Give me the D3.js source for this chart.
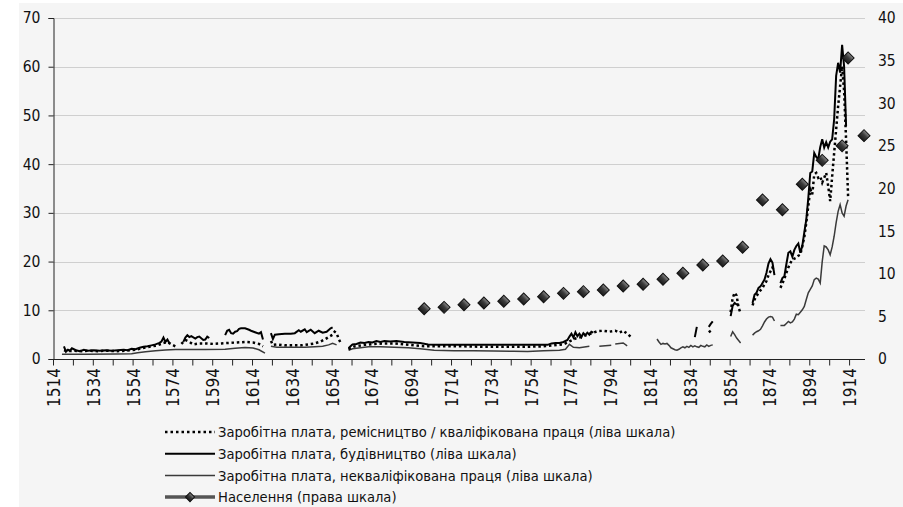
<!DOCTYPE html>
<html>
<head>
<meta charset="utf-8">
<script src="https://cdn.jsdelivr.net/npm/d3@7"></script>
<style>
  body { margin: 0; background: #fff; }
  text { font-family: "Liberation Sans Narrow", "DejaVu Sans Condensed", sans-serif; fill: #111; }
</style>
</head>
<body>
<svg id="chart" width="903" height="507"></svg>
<script>
// wages (left scale), population (right scale); null breaks a line
var skilled = [
  [1519,1.8],[1521,1.6],[1524,1.7],[1528,1.6],[1532,1.7],[1536,1.6],[1540,1.7],[1545,1.6],[1550,1.7],[1555,1.9],
  [1558,2.2],[1562,2.5],[1566,2.8],[1569,3.3],[1571,3.5],[1573,3.0],[1575,2.6], null,
  [1578,3.1],[1580,3.9],[1582,3.5],[1584,3.0],[1587,3.2],[1590,3.2],[1594,3.1],[1598,3.2],[1602,3.3],[1606,3.4],
  [1610,3.5],[1614,3.4],[1617,3.1],[1619,2.6], null,
  [1623,3.7],[1624,2.9],[1626,3.0],[1630,2.8],[1634,2.8],[1638,2.8],[1642,3.0],[1645,3.2],[1648,3.6],[1650,4.0],
  [1652,4.5],[1654,5.0],[1655,5.6],[1656,5.3],[1657,4.2],[1658,3.3], null,
  [1662,2.0],[1665,2.6],[1670,2.9],[1675,3.1],[1680,3.2],[1685,3.2],[1690,3.0],[1695,2.8],[1700,2.6],[1710,2.6],
  [1720,2.6],[1730,2.5],[1740,2.5],[1750,2.5],[1760,2.6],[1765,2.8],[1770,3.0],[1773,3.6],[1776,4.2],[1779,4.5],
  [1782,5.0],[1785,5.4],[1787,5.7],[1790,5.8],[1793,5.6],[1796,5.8],[1798,5.4],[1800,5.8],[1802,5.2],[1804,4.5], null,
  [1843,5.5],[1844,5.8], null,
  [1854,9.6],[1855,12.5],[1856,13.6],[1857,13.0],[1858,10.5],[1859,9.4], null,
  [1865,11.0],[1866,12.2],[1868,13.6],[1870,14.6],[1872,16.0],[1873,17.2],[1874,18.0],[1875,18.8],[1876,18.0], null,
  [1879,14.6],[1880,15.5],[1881,16.5],[1882,17.7],[1883,18.8],[1884,19.7],[1885,20.4],[1886,20.6],[1887,20.8],
  [1888,21.2],[1889,21.4],[1890,23.2],[1891,25.0],[1892,28.0],[1893,31.4],[1894,34.8],[1895,33.8],[1896,37.9],
  [1897,38.2],[1898,37.2],[1899,37.5],[1900,36.2],[1901,37.2],[1902,38.2],[1903,35.5],[1904,32.4],[1905,37.5],
  [1906,42.3],[1907,47.1],[1908,51.9],[1909,56.0],[1910,60.1],[1911,55.0],[1912,45.0],[1913,33.4]
];

var construction = [
  [1519,2.6],[1520,1.5],[1521,1.9],[1522,1.7],[1523,2.2],[1525,1.8],[1527,1.6],[1529,1.9],[1531,1.7],[1534,1.8],
  [1537,1.7],[1540,1.8],[1543,1.7],[1546,1.8],[1549,1.9],[1551,1.8],[1553,2.1],[1555,2.0],[1557,2.3],[1559,2.5],
  [1561,2.6],[1563,2.8],[1565,3.0],[1567,3.3],[1568,3.6],[1569,4.4],[1570,3.5],[1571,4.0],[1572,3.2], null,
  [1579,3.5],[1580,4.4],[1581,4.9],[1582,4.5],[1583,4.7],[1585,4.2],[1586,4.5],[1587,4.6],[1589,3.9],[1590,4.0],
  [1591,4.6],[1592,4.3], null,
  [1600,4.9],[1601,5.8],[1602,6.0],[1603,5.3],[1604,5.2],[1605,5.6],[1606,5.7],[1607,6.2],[1608,6.3],[1610,6.3],
  [1612,6.0],[1613,5.8],[1615,5.5],[1617,5.2],[1618,5.5],[1619,4.0], null,
  [1623,5.3],[1624,4.1],[1625,5.0],[1627,5.1],[1630,5.2],[1633,5.2],[1635,5.3],[1637,5.9],[1638,5.6],[1640,6.1],
  [1641,5.5],[1643,6.0],[1645,5.3],[1647,5.8],[1649,5.4],[1651,5.6],[1653,6.3],[1654,6.5], null,
  [1662,2.2],[1663,2.6],[1664,3.0],[1666,3.1],[1668,3.4],[1670,3.3],[1672,3.5],[1674,3.4],[1676,3.7],[1678,3.5],
  [1680,3.7],[1683,3.6],[1686,3.7],[1690,3.5],[1694,3.4],[1698,3.3],[1702,3.0],[1706,2.9],[1730,2.9],[1762,2.9],
  [1764,3.2],[1766,3.3],[1768,3.3],[1770,3.5],[1772,3.9],[1773,4.6],[1774,5.2],[1775,4.4],[1776,5.5],[1777,4.7],
  [1778,5.2],[1779,4.5],[1780,5.3],[1781,4.9],[1782,5.4],[1783,5.0],[1784,5.6],[1785,5.4], null,
  [1836,4.5],[1837,6.6], null,
  [1843,6.6],[1844,7.2],[1845,7.7], null,
  [1854,8.8],[1855,10.9],[1856,11.5],[1857,11.2],[1858,11.3], null,
  [1865,11.5],[1866,13.2],[1867,13.6],[1868,14.6],[1869,14.9],[1870,15.6],[1871,16.3],[1872,17.7],[1873,19.6],
  [1874,20.5],[1875,19.8],[1876,17.2], null,
  [1879,15.6],[1880,16.6],[1881,17.0],[1882,19.5],[1883,21.8],[1884,22.1],[1885,21.0],[1886,22.4],[1887,23.2],
  [1888,23.7],[1889,21.8],[1890,23.2],[1891,26.0],[1892,28.6],[1893,33.0],[1894,38.2],[1895,38.5],[1896,42.3],
  [1897,41.5],[1898,41.0],[1899,43.5],[1900,45.1],[1901,43.4],[1902,44.5],[1903,43.4],[1904,44.6],[1905,45.1],
  [1906,49.2],[1907,58.1],[1908,60.8],[1909,58.8],[1910,64.5],[1911,60.1],[1912,47.8]
];

var unskilled = [
  [1518,1.0],[1530,1.0],[1545,1.05],[1553,1.1],[1556,1.3],[1560,1.5],[1565,1.7],[1570,1.85],[1575,1.95],[1580,1.95],
  [1590,1.95],[1600,2.0],[1605,2.2],[1610,2.35],[1614,2.25],[1617,1.9],[1620,1.2], null,
  [1623,2.6],[1626,2.4],[1630,2.4],[1635,2.4],[1640,2.4],[1645,2.5],[1649,2.6],[1652,2.9],[1654,3.2],[1656,2.9], null,
  [1662,1.8],[1664,2.1],[1668,2.3],[1672,2.5],[1678,2.5],[1685,2.4],[1692,2.3],[1698,2.1],[1705,1.8],[1715,1.7],
  [1725,1.7],[1735,1.65],[1745,1.6],[1752,1.55],[1760,1.7],[1768,1.8],[1771,2.0],[1773,3.0],[1775,2.4],[1778,2.3],
  [1783,2.6], null, [1788,2.6],[1794,2.8], null, [1796,3.1],[1800,3.3],[1802,2.7], null,
  [1817,4.1],[1818,3.5],[1819,3.0],[1820,3.2],[1821,3.1],[1822,3.2],[1823,2.8],[1824,2.3],[1825,2.1],[1826,1.9],
  [1827,1.8],[1828,2.0],[1829,2.3],[1830,2.5],[1831,2.3],[1832,2.6],[1833,2.4],[1834,2.8],[1835,2.5],[1836,2.7],
  [1837,2.5],[1838,2.4],[1839,2.8],[1840,2.6],[1841,2.5],[1842,2.9],[1843,2.6],[1844,2.8],[1845,2.9], null,
  [1854,4.6],[1855,5.6],[1856,5.0],[1857,4.3],[1858,3.8],[1859,3.3], null,
  [1865,4.9],[1866,5.3],[1867,5.6],[1868,5.8],[1869,6.1],[1870,6.8],[1871,7.6],[1872,8.2],[1873,8.6],[1874,8.7],
  [1875,8.6],[1876,7.8], null,
  [1879,6.9],[1881,6.9],[1882,7.3],[1883,7.7],[1884,7.4],[1885,7.6],[1886,8.2],[1887,9.2],[1888,9.1],[1889,9.6],
  [1890,10.1],[1891,10.8],[1892,12.2],[1893,13.6],[1894,14.3],[1895,15.0],[1896,16.3],[1897,16.6],[1898,16.4],
  [1899,15.6],[1900,20.0],[1901,23.2],[1902,23.0],[1903,22.4],[1904,21.4],[1905,23.0],[1906,25.2],[1907,28.0],
  [1908,30.3],[1909,31.7],[1910,30.0],[1911,29.3],[1912,31.4],[1913,32.7]
];

var popYears = [1700,1710,1720,1730,1740,1750,1760,1770,1780,1790,1800,1810,1820,1830,1840,1850,1860,1870,1880,1890,1900,1910,1913,1921];
var population = [5.9,6.06,6.37,6.57,6.77,7.04,7.31,7.7,7.9,8.09,8.56,8.76,9.35,10.05,11.03,11.5,13.1,18.65,17.5,20.5,23.3,25.0,35.3,26.2];

var leftTicks = [0,10,20,30,40,50,60,70];
var rightTicks = [0,5,10,15,20,25,30,35,40];
var yearLabels = d3.range(1514, 1915, 20);
var yearTicks = d3.range(1513.5, 1914, 10);

var legendNames = [
  "Заробітна плата, ремісництво / кваліфікована праця (ліва шкала)",
  "Заробітна плата, будівництво (ліва шкала)",
  "Заробітна плата, некваліфікована праця (ліва шкала)",
  "Населення (права шкала)"
];

var svg = d3.select("#chart"),
    plotL = 53, plotR = 865, plotT = 18, plotB = 359;

var x = d3.scaleLinear().domain([1513.5, 1921.5]).range([plotL, plotR]),
    yL = d3.scaleLinear().domain([0, 70]).range([plotB, plotT]),
    yR = d3.scaleLinear().domain([0, 40]).range([plotB, plotT]);

var defs = svg.append("defs");
var grad = defs.append("linearGradient").attr("id", "dia").attr("x1", 0).attr("y1", 0).attr("x2", 0).attr("y2", 1);
grad.append("stop").attr("offset", "0%").attr("stop-color", "#8a8a8a");
grad.append("stop").attr("offset", "45%").attr("stop-color", "#3c3c3c");
grad.append("stop").attr("offset", "100%").attr("stop-color", "#1a1a1a");

// chart area background
svg.append("rect").attr("x", 19).attr("y", 3).attr("width", 884).attr("height", 504).attr("fill", "#f5f5f5");

// gridlines
svg.append("g")
  .selectAll("line").data(leftTicks.slice(1)).join("line")
  .attr("x1", plotL).attr("x2", plotR)
  .attr("y1", d => Math.round(yL(d)) + 0.5).attr("y2", d => Math.round(yL(d)) + 0.5)
  .attr("stroke", "#cfcfcf").attr("stroke-width", 1);

// left axis
var gl = svg.append("g").attr("transform", "translate(" + (plotL + 0.5) + ",0)")
  .call(d3.axisLeft(yL).tickValues(leftTicks).tickSize(5).tickPadding(8));
gl.selectAll("path, line").attr("stroke", "#222");
gl.selectAll("text").style("font-size", "15.5px").attr("fill", "#111");

// right axis labels only
var gr = svg.append("g").attr("transform", "translate(" + (plotR - 2) + ",0)")
  .call(d3.axisRight(yR).tickValues(rightTicks).tickSize(0).tickPadding(15));
gr.select(".domain").remove();
gr.selectAll("text").style("font-size", "15.5px").attr("fill", "#111");

// x axis: ticks every 10 categories, labels every 20
var gx = svg.append("g").attr("transform", "translate(0," + (plotB + 0.5) + ")")
  .call(d3.axisBottom(x).tickValues(yearTicks).tickSize(6).tickFormat(""));
gx.select(".domain").attr("d", "M" + plotL + ",0H" + plotR);
gx.selectAll("path, line").attr("stroke", "#222");

svg.append("g").selectAll("text").data(yearLabels).join("text")
  .attr("transform", d => "translate(" + x(d) + "," + (plotB + 9) + ") rotate(-90)")
  .attr("text-anchor", "end").attr("dy", "0.35em")
  .style("font-size", "17px")
  .text(d => d);

// series
var line = d3.line().defined(d => d !== null).x(d => x(d[0])).y(d => yL(d[1]));

svg.append("path").datum(unskilled).attr("d", line)
  .attr("fill", "none").attr("stroke", "#3a3a3a").attr("stroke-width", 1.5);
svg.append("path").datum(construction).attr("d", line)
  .attr("fill", "none").attr("stroke", "#000").attr("stroke-width", 2);
svg.append("path").datum(skilled).attr("d", line)
  .attr("fill", "none").attr("stroke", "#000").attr("stroke-width", 2.5).attr("stroke-dasharray", "2.5,2.8");

var diamond = d3.symbol().type(d3.symbolSquare).size(72);
svg.append("g").selectAll("path").data(popYears).join("path")
  .attr("transform", (d, i) => "translate(" + x(d) + "," + yR(population[i]) + ") rotate(45)")
  .attr("d", diamond)
  .attr("fill", "url(#dia)").attr("stroke", "#111").attr("stroke-width", 1);

// legend
var lg = svg.append("g").attr("transform", "translate(165,432)");
var rows = lg.selectAll("g").data(legendNames).join("g")
  .attr("transform", (d, i) => "translate(0," + (i * 21.7) + ")");
rows.append("line").attr("x1", 0).attr("x2", 50).attr("y1", 0).attr("y2", 0)
  .attr("stroke", (d, i) => i === 3 ? "#555" : (i === 2 ? "#3a3a3a" : "#000"))
  .attr("stroke-width", (d, i) => [2.5, 2, 1.5, 3.5][i])
  .attr("stroke-dasharray", (d, i) => i === 0 ? "2.5,3" : null);
rows.filter((d, i) => i === 3).append("path")
  .attr("transform", "translate(25,0) rotate(45)")
  .attr("d", d3.symbol().type(d3.symbolSquare).size(42))
  .attr("fill", "url(#dia)").attr("stroke", "#111");
rows.append("text").attr("x", 53).attr("dy", "0.35em")
  .style("font-size", "14.6px")
  .text(d => d);
</script>
</body>
</html>
